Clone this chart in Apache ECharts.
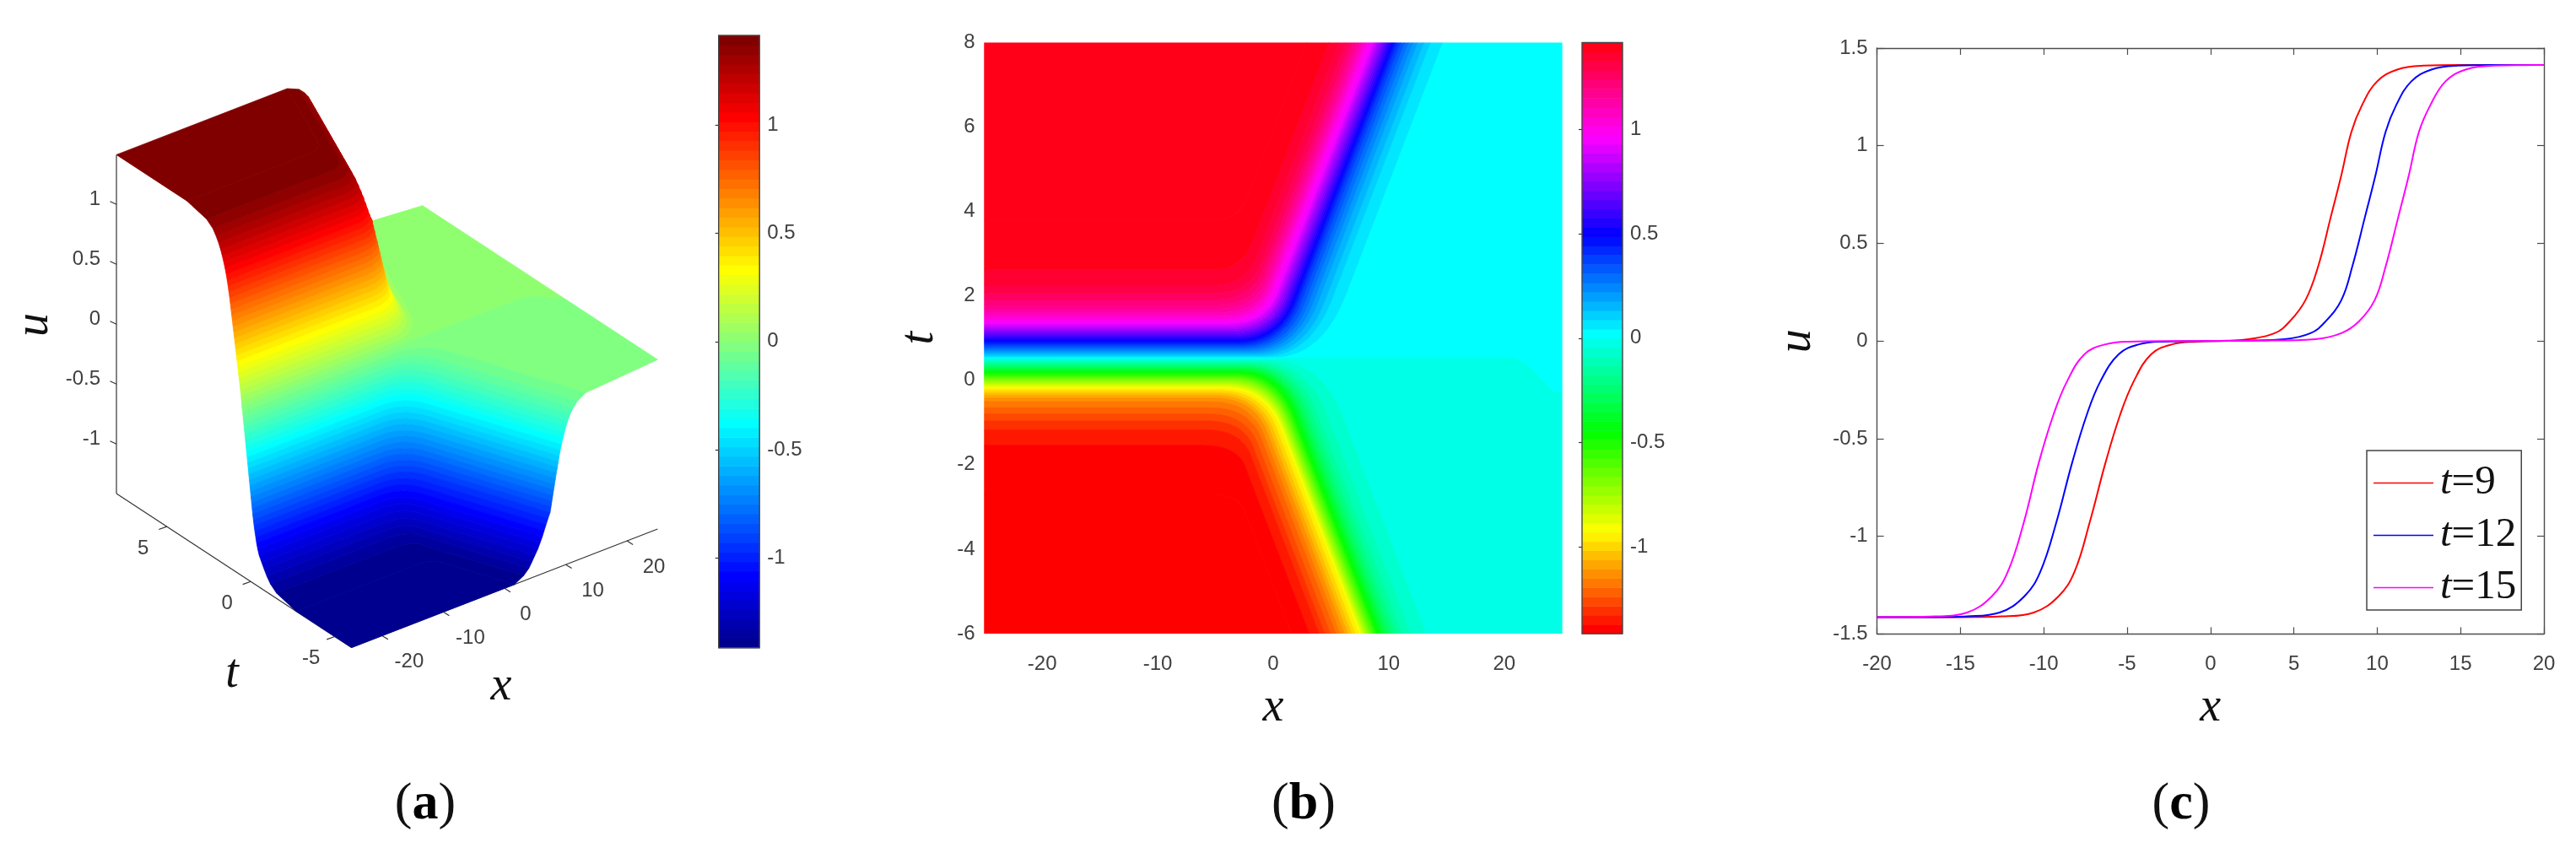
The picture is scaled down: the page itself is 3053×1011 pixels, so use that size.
<!DOCTYPE html>
<html><head><meta charset="utf-8">
<style>html,body{margin:0;padding:0;background:#fff}#c{width:3053px;height:1011px}</style>
<script src="https://cdn.jsdelivr.net/npm/echarts@6/dist/echarts.min.js"></script>
</head><body><div id="c"></div>
<script>
// ---- values ----
const uMax = 1.414, bandsPerSide = 32;
// contours of u at level +k*uMax/32, k=1..32: t on the flat left part, x where they meet t=8
const upperLeftT = [.55,.576,.616,.656,.696,.736,.776,.816,.856,.896,.935,.975,1.015,1.055,1.095,1.135,1.175,1.215,1.255,1.302,1.349,1.402,1.462,1.528,1.608,1.695,1.795,1.915,2.068,2.255,2.628,3.8];
const upperTopX = [14.64,13.59,13.03,12.49,12.08,11.69,11.35,11.03,10.76,10.55,10.38,10.21,10.01,9.84,9.67,9.5,9.33,9.13,8.96,8.79,8.62,8.31,8.06,7.82,7.58,7.31,7.02,6.7,6.29,5.68,4.82,2.9];
const upperKneeRun = [4.2,4,3.9,3.8,3.8,3.7,3.7,3.6,3.6,3.6,3.5,3.5,3.5,3.4,3.4,3.4,3.4,3.3,3.3,3.3,3.3,3.2,3.2,3.2,3.1,3.1,3,3,2.8,2.5,2.2,2];
const upperKneeRise = [1.5,1.35,1.25,1.2,1.15,1.1,1.05,1.05,1,1,.95,.95,.9,.9,.85,.85,.8,.8,.75,.75,.7,.7,.7,.7,.7,.7,.7,.7,.7,.7,.7,.6];
// contours at level -k*uMax/32, k=1..32: t on the flat left part, x where they meet t=-6
const lowerLeftT = [.482,.449,.416,.383,.349,.316,.283,.249,.216,.183,.149,.116,.083,.049,.016,-.017,-.05,-.084,-.117,-.157,-.197,-.244,-.297,-.35,-.417,-.504,-.65,-.797,-.963,-1.17,-1.536,-2.7];
const lowerBottomX = [13.22,11.89,11.16,10.67,10.3,9.99,9.74,9.5,9.28,9.09,8.92,8.77,8.62,8.45,8.31,8.16,8.01,7.87,7.72,7.58,7.43,7.09,6.77,6.46,6.16,5.8,5.43,4.95,4.46,3.97,3.12,1.6];
const lowerKneeRun = [4.5,4.3,4.1,3.9,3.8,3.7,3.6,3.5,3.4,3.4,3.3,3.3,3.4,3.4,3.5,3.5,3.6,3.6,3.7,3.7,3.7,3.7,3.6,3.6,3.5,3.5,3.4,3.3,3.2,3.1,3,2.5];
const lowerKneeDrop = [1.3,1.2,1.15,1.1,1.1,1.05,1.05,1,1,1,1,1,1,1,.95,.95,.95,.95,.95,.95,.95,.9,.9,.85,.8,.8,.7,.7,.6,.6,.5,.4];
// the u=0 line
const zeroLine = [[-25,.525],[21,.525],[22,.37],[24.3,-.27],[25,-.3]];
const wallSlope = 1.4;

const xTicks3D = [-20,-10,0,10,20], tTicks3D = [-5,0,5], uTicks3D = [-1,-.5,0,.5,1];
const barTicks = [-1,-.5,0,.5,1];
const mapXTicks = [-20,-10,0,10,20];

const lineNames = ['t=9','t=12','t=15'];
const lineColors = ['#ff0000','#0000ff','#ff00ff'];
const x9  = [-20,-15,-12.5,-10.6,-9.1,-8.15,-7.25,-6.3,-5.4,-4.6,-3.55,-2.3,-.8,1,2.3,3.85,4.75,5.7,6.45,7.2,7.85,8.45,9.1,10,11.2,12.8,15,20];
const u9  = [-1.414,-1.414,-1.41,-1.39,-1.306,-1.18,-.93,-.624,-.373,-.206,-.067,-.017,-.003,.002,.01,.04,.10,.21,.38,.63,.85,1.07,1.21,1.33,1.39,1.41,1.414,1.414];
const x12 = [-20,-16.5,-14.6,-12.65,-11.15,-10.2,-9.25,-8.3,-7.4,-6.6,-5.5,-4.3,-2.9,1,4.45,6,6.9,7.85,8.5,9.25,9.9,10.5,11.15,12.05,13.25,14.85,17,20];
const u12 = [-1.414,-1.414,-1.41,-1.39,-1.306,-1.18,-.93,-.624,-.373,-.206,-.067,-.017,-.003,.001,.01,.04,.10,.21,.38,.63,.85,1.07,1.21,1.33,1.39,1.41,1.414,1.414];
const x15 = [-20,-16.5,-14.6,-13.1,-12.15,-11.2,-10.3,-9.4,-8.6,-7.55,-6.3,-4.9,-2,3,6.3,7.85,8.9,9.85,10.5,11.25,11.9,12.5,13.2,14.1,15.3,17,20];
const u15 = [-1.414,-1.41,-1.39,-1.306,-1.18,-.93,-.624,-.373,-.206,-.067,-.017,-.003,0,.002,.01,.04,.10,.21,.38,.63,.85,1.07,1.21,1.33,1.39,1.41,1.414];
const captions = ['a','b','c'];

// ---- layout ----
const SANS = '"Liberation Sans",Arial,sans-serif', SERIF = '"Liberation Serif",serif';
const INK = '#404040', FRAME = '#4d4d4d', TICK = 24;
const origin3D = [138, 585], ex3D = [362.8,-140.5], et3D = [278.6,182.5], eu3D = [0,-401.6];
function project(x,t,u){
  const a=(x+25)/50, b=(8-t)/14, c=(u+uMax)/(2*uMax);
  return [origin3D[0]+a*ex3D[0]+b*et3D[0]+c*eu3D[0], origin3D[1]+a*ex3D[1]+b*et3D[1]+c*eu3D[1]];
}
// ---- colormaps (64 steps) ----
function toHex(r,g,b){return 'rgb('+[r,g,b].map(v=>Math.round(255*Math.min(1,Math.max(0,v)))).join(',')+')';}
function jetColor(i){const s=(i+1)/64;return toHex(1.5-Math.abs(4*s-3),1.5-Math.abs(4*s-2),1.5-Math.abs(4*s-1));}
function hsvColor(i){const h=i/64*6,f=h-Math.floor(h),q=1-f;
  return [toHex(1,f,0),toHex(q,1,0),toHex(0,1,f),toHex(0,q,1),toHex(f,0,1),toHex(1,0,q)][Math.floor(h)%6];}
// ---- contours and bands ----
function contour(k){
  if(k===0) return zeroLine.map(p=>[p[0],p[1],0]);
  const up=k>0, n=Math.abs(k)-1, u=k/bandsPerSide*uMax;
  const tk=up?upperLeftT[n]:lowerLeftT[n], xe=up?upperTopX[n]:lowerBottomX[n], te=up?8:-6;
  const run=up?upperKneeRun[n]:lowerKneeRun[n], h=up?upperKneeRise[n]:lowerKneeDrop[n];
  const xc=xe-wallSlope*Math.abs(te-tk);
  const B=[xc-run,tk], C=[xc,tk], D=[xc+wallSlope*h, tk+(up?h:-h)];
  const pts=[[-25,tk,u]];
  for(let j=0;j<=14;j++){const s=j/14,m=1-s;
    pts.push([m*m*B[0]+2*m*s*C[0]+s*s*D[0], m*m*B[1]+2*m*s*C[1]+s*s*D[1], u]);}
  pts.push([xe,te,u]);
  return pts;
}
const bands=[];
bands.push({i:32,pts:contour(1).concat([[25,8,0]],contour(0).reverse())});
for(let k=1;k<32;k++) bands.push({i:32+k,pts:contour(k).concat(contour(k+1).reverse())});
bands.push({i:63,pts:contour(32).concat([[-25,8,uMax]])});
bands.push({i:31,pts:contour(-1).concat([[25,-6,0]],contour(0).reverse())});
for(let k=1;k<32;k++) bands.push({i:31-k,pts:contour(-k).concat(contour(-k-1).reverse())});
bands.push({i:0,pts:contour(-32).concat([[-25,-6,-uMax]])});
const bandRows=bands.map((b,n)=>[n,0]);
const barRows=[];for(let i=0;i<64;i++)barRows.push([i,0]);

function renderSurface(p,api){
  const b=bands[api.value(0)],col=jetColor(b.i);
  return {type:'polygon',shape:{points:b.pts.map(q=>api.coord(project(q[0],q[1],q[2])))},style:{fill:col,stroke:col,lineWidth:.8}};
}
function renderMap(p,api){
  const b=bands[api.value(0)],col=hsvColor(b.i);
  return {type:'polygon',shape:{points:b.pts.map(q=>api.coord([q[0],q[1]]))},style:{fill:col,stroke:col,lineWidth:.8}};
}
function barRender(cm){return function(p,api){
  const i=api.value(0),step=uMax/32,a=api.coord([0,-uMax+i*step]),b=api.coord([1,-uMax+(i+1)*step]);
  return {type:'rect',shape:{x:a[0],y:b[1],width:b[0]-a[0],height:a[1]-b[1]+.6},style:{fill:cm(i)}};
};}
function renderFrame(p,api){
  const a=api.coord([0,-uMax]),b=api.coord([1,uMax]);
  return {type:'rect',shape:{x:a[0],y:b[1],width:b[0]-a[0],height:a[1]-b[1]},style:{fill:'none',stroke:'#444',lineWidth:1.4}};
}
function renderAxes3D(p,api){
  const ch=[];
  const seg=(A,B,w)=>{const a=api.coord(A),b=api.coord(B);
    ch.push({type:'line',shape:{x1:a[0],y1:a[1],x2:b[0],y2:b[1]},style:{stroke:'#333',lineWidth:w||1.2}});};
  const txt=(A,s,al,fs,ff,st,rot)=>{const a=api.coord(A);
    ch.push({type:'text',x:a[0],y:a[1],rotation:rot||0,style:{text:s,fill:ff?'#111':INK,font:(st||'')+' '+fs+'px '+(ff||SANS),align:al,verticalAlign:'middle'}});};
  const O=project(-25,8,-uMax),T=project(-25,-6,-uMax),X=project(25,-6,-uMax),Z=project(-25,8,uMax);
  seg(O,Z);seg(O,T);seg(T,X);
  tTicks3D.forEach(t=>{const q=project(-25,t,-uMax);seg(q,[q[0]-9.5,q[1]+3.4]);txt([q[0]-28,q[1]+26],String(t),'center',TICK);});
  xTicks3D.forEach(x=>{const q=project(x,-6,-uMax);seg(q,[q[0]+7,q[1]+4.4]);txt([q[0]+(x===0?25:32),q[1]+31],String(x),'center',TICK);});
  uTicks3D.forEach(u=>{const q=project(-25,8,u);seg(q,[q[0]-7.5,q[1]-3.4]);txt([q[0]-19,q[1]-6],String(u),'right',TICK);});
  txt([275,799],'t','center',56,SERIF,'italic');
  txt([594,814],'x','center',56,SERIF,'italic');
  txt([41,385],'u','center',56,SERIF,'italic',Math.PI/2);
  return {type:'group',children:ch};
}
function colorbarY(idx,grid){return {gridIndex:grid,type:'value',position:'right',min:-uMax,max:uMax,
  axisLine:{show:false},splitLine:{show:false},
  axisTick:{show:true,inside:true,length:4,customValues:barTicks,lineStyle:{color:'#333',width:1.2}},
  axisLabel:{show:true,customValues:barTicks,margin:9,color:INK,fontFamily:SANS,fontSize:TICK,formatter:v=>String(v)}};}
const hiddenX=(g,a,b)=>({gridIndex:g,type:'value',min:a,max:b,show:false});
const axisName=(s,gap)=>({name:s,nameLocation:'middle',nameGap:gap,nameTextStyle:{fontFamily:SERIF,fontStyle:'italic',fontSize:56,color:'#111'}});
const capRich={p:{fontFamily:SERIF,fontSize:62,color:'#111',fontWeight:'normal'},b:{fontFamily:SERIF,fontSize:62,color:'#000',fontWeight:'bold'}};
const capX=[499,1540,2580];
const frameLine={onZero:false,lineStyle:{color:FRAME,width:1.4}};
const frameTick={inside:true,length:8,lineStyle:{color:FRAME,width:1.2}};

const option={
  backgroundColor:'#fff',animation:false,
  title:captions.map((c,n)=>({text:'{p|(}{b|'+c+'}{p|)}',left:capX[n],top:918,textAlign:'center',textStyle:{rich:capRich}})),
  grid:[
    {left:0,top:0,width:1000,height:1011},
    {left:851.7,top:42,width:48.5,height:725.7},
    {left:1166.7,top:50.5,width:684.5,height:700.5},
    {left:1875,top:50.5,width:48,height:700.5},
    {left:2224.6,top:57,width:790.4,height:694.4}
  ],
  xAxis:[
    hiddenX(0,0,1000),
    hiddenX(1,0,1),
    Object.assign({gridIndex:2,type:'value',min:-25,max:25,axisLine:{show:false},axisTick:{show:false},splitLine:{show:false},
      axisLabel:{customValues:mapXTicks,margin:24,color:INK,fontFamily:SANS,fontSize:TICK,formatter:v=>String(v)}},axisName('x',60)),
    hiddenX(3,0,1),
    Object.assign({gridIndex:4,type:'value',min:-20,max:20,interval:5,axisLine:frameLine,
      axisTick:frameTick,splitLine:{show:false},
      axisLabel:{margin:24,color:INK,fontFamily:SANS,fontSize:TICK,hideOverlap:false,showMinLabel:true,showMaxLabel:true}},axisName('x',60)),
    {gridIndex:4,type:'value',position:'top',min:-20,max:20,interval:5,axisLine:frameLine,
      axisTick:frameTick,axisLabel:{show:false},splitLine:{show:false}}
  ],
  yAxis:[
    {gridIndex:0,type:'value',min:0,max:1011,inverse:true,show:false},
    colorbarY(0,1),
    Object.assign({gridIndex:2,type:'value',min:-6,max:8,interval:2,axisLine:{show:false},axisTick:{show:false},splitLine:{show:false},
      axisLabel:{margin:11,color:INK,fontFamily:SANS,fontSize:TICK}},axisName('t',48)),
    colorbarY(0,3),
    Object.assign({gridIndex:4,type:'value',min:-1.5,max:1.5,interval:.5,axisLine:frameLine,
      axisTick:frameTick,splitLine:{show:false},
      axisLabel:{margin:11,color:INK,fontFamily:SANS,fontSize:TICK}},axisName('u',66)),
    {gridIndex:4,type:'value',position:'right',min:-1.5,max:1.5,interval:.5,axisLine:frameLine,
      axisTick:frameTick,axisLabel:{show:false},splitLine:{show:false}}
  ],
  legend:{data:lineNames,orient:'vertical',left:2805,top:534,selectedMode:false,backgroundColor:'#fff',
    borderColor:'#444',borderWidth:1.5,padding:[14,6,2,8],itemGap:13,itemWidth:71,itemHeight:54,icon:'path://M0 49H100V51H0Z',
    formatter:n=>'{i|t}{d|'+n.slice(1)+'}',
    textStyle:{rich:{i:{fontFamily:SERIF,fontStyle:'italic',fontSize:49,color:'#111',padding:[0,0,0,3]},d:{fontFamily:SERIF,fontSize:49,color:'#111'}}}},
  series:[
    {type:'custom',name:'surface',coordinateSystem:'cartesian2d',xAxisIndex:0,yAxisIndex:0,silent:true,renderItem:renderSurface,data:bandRows,z:2},
    {type:'custom',name:'axes3d',coordinateSystem:'cartesian2d',xAxisIndex:0,yAxisIndex:0,silent:true,renderItem:renderAxes3D,data:[[0,0]],z:1},
    {type:'custom',name:'bar-a',coordinateSystem:'cartesian2d',xAxisIndex:1,yAxisIndex:1,silent:true,renderItem:barRender(jetColor),data:barRows,z:2},
    {type:'custom',name:'frame-a',coordinateSystem:'cartesian2d',xAxisIndex:1,yAxisIndex:1,silent:true,renderItem:renderFrame,data:[[0,0]],z:3},
    {type:'custom',name:'map',coordinateSystem:'cartesian2d',xAxisIndex:2,yAxisIndex:2,silent:true,clip:true,renderItem:renderMap,data:bandRows,z:2},
    {type:'custom',name:'bar-b',coordinateSystem:'cartesian2d',xAxisIndex:3,yAxisIndex:3,silent:true,renderItem:barRender(hsvColor),data:barRows,z:2},
    {type:'custom',name:'frame-b',coordinateSystem:'cartesian2d',xAxisIndex:3,yAxisIndex:3,silent:true,renderItem:renderFrame,data:[[0,0]],z:3}
  ].concat([[x9,u9],[x12,u12],[x15,u15]].map((d,n)=>({
    type:'line',name:lineNames[n],xAxisIndex:4,yAxisIndex:4,showSymbol:false,smooth:.4,
    lineStyle:{color:lineColors[n],width:2},itemStyle:{color:lineColors[n]},z:2+n,
    data:d[0].map((x,j)=>[x,d[1][j]])
  })))
};
const chart=echarts.init(document.getElementById('c'),null,{width:3053,height:1011,renderer:'canvas'});
chart.setOption(option);
</script></body></html>
